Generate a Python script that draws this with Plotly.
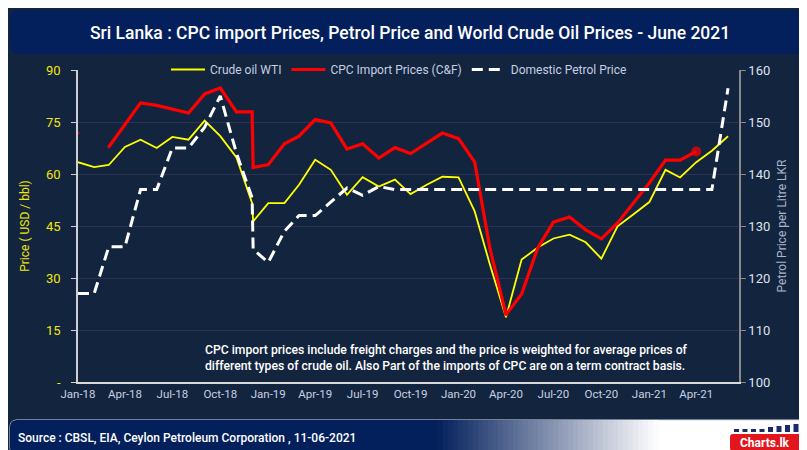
import pandas as pd
import plotly.graph_objects as go

# ---------------- data ----------------
MONTHS = list(pd.date_range("2018-01-01", "2021-06-01", freq="MS"))
STEP_DATE = pd.Timestamp("2018-12-03")   # extra row (petrol price revision in Dec-18)
DATES = MONTHS[:12] + [STEP_DATE] + MONTHS[12:]

WTI = [63.4, 62.0, 62.6, 67.8, 69.9, 67.5, 70.7, 69.9, 75.4, 70.9, 64.8,
       51.6, 46.3,
       51.6, 51.6, 56.9, 64.1, 61.2, 54.0, 59.1, 56.4, 58.4, 54.2, 56.9, 59.2,
       59.0, 49.2, 34.0, 18.7, 35.3, 38.8, 41.4, 42.5, 40.3, 35.6, 44.9, 48.3,
       51.9, 61.2, 59.0, 63.4, 66.7, 70.9]

CPC = [71.8, None, 67.8, 74.2, 80.5, 79.8, 78.7, 77.6, 83.1, 84.8, 77.9,
       77.9, 61.9,
       62.7, 68.7, 70.9, 75.7, 74.7, 67.2, 68.7, 64.6, 67.6, 65.9, 68.9, 71.8,
       70.2, 63.4, 38.7, 19.4, 25.4, 38.7, 46.1, 47.6, 43.9, 41.3, 45.9, 51.6,
       57.4, 64.0, 64.0, 66.5, None, None]

PETROL = [117, 117, 126, 126, 137, 137, 145, 145, 149, 155, 144,
          135.4, 125.5,
          123, 129, 132, 132, 134.7, 137.3, 135.9, 137.6,
          137, 137, 137, 137, 137, 137, 137, 137, 137, 137, 137, 137, 137, 137,
          137, 137, 137, 137, 137, 137, 137, 156.5]

LEFT_TICKS = [0, 15, 30, 45, 60, 75, 90]
LEFT_TICKTEXT = ["-", "15", "30", "45", "60", "75", "90"]
RIGHT_TICKS = [100, 110, 120, 130, 140, 150, 160]

TITLE = "Sri Lanka : CPC import Prices, Petrol Price and World Crude Oil Prices - June 2021"
NOTE = ("CPC import prices include freight charges and the price is weighted for average prices of<br>"
        "different types of crude oil. Also Part of the imports of CPC are on a term contract basis.")
SOURCE = "Source : CBSL, EIA, Ceylon Petroleum Corporation , 11-06-2021"

# ---------------- style ----------------
W, H = 807, 450
L, R, T, B = 70, 76, 62, 76
BG = "#13243f"
BAR = "#04205c"
FONT = "Roboto, Liberation Sans, sans-serif"

PW = W - L - R
PH = H - T - B


def px(x):
    return (x - L) / PW


def py(y):
    return (H - B - y) / PH


def rrect(x0, y0, x1, y1, r):
    X0, X1 = px(x0), px(x1)
    Y0, Y1 = py(y0), py(y1)
    rx, ry = r / PW, r / PH
    return (f"M{X0 + rx},{Y0} L{X1 - rx},{Y0} Q{X1},{Y0} {X1},{Y0 - ry} "
            f"L{X1},{Y1 + ry} Q{X1},{Y1} {X1 - rx},{Y1} L{X0 + rx},{Y1} "
            f"Q{X0},{Y1} {X0},{Y1 + ry} L{X0},{Y0 - ry} Q{X0},{Y0} {X0 + rx},{Y0} Z")


fig = go.Figure()

fig.add_trace(go.Scatter(
    x=DATES, y=WTI, name="Crude oil WTI", mode="lines",
    line=dict(color="#ffff00", width=1.8), hoverinfo="skip"))

last_cpc = max(i for i, v in enumerate(CPC) if v is not None)
fig.add_trace(go.Scatter(
    x=DATES, y=CPC, name="CPC Import Prices (C&F)", mode="lines+markers",
    line=dict(color="#ff0000", width=3.2),
    marker=dict(color="#ff0000", line=dict(width=0),
                size=[10 if i == last_cpc else 3 for i in range(len(CPC))]),
    connectgaps=False, hoverinfo="skip"))

fig.add_trace(go.Scatter(
    x=DATES, y=PETROL, name="Domestic Petrol Price", mode="lines", yaxis="y2",
    line=dict(color="#ffffff", width=3, dash="11px,6px"), hoverinfo="skip"))

shapes = []
# title bar
shapes.append(dict(type="path", xref="paper", yref="paper", path=rrect(2, 2, 804, 46, 8),
                   fillcolor=BAR, line=dict(width=0), layer="below"))
# footer bar with gradient
shapes.append(dict(type="path", xref="paper", yref="paper", path=rrect(2, 412, 805, 447, 7),
                   fillcolor="#ffffff", line=dict(color="#d8dce6", width=1), layer="below"))
shapes.append(dict(type="rect", xref="paper", yref="paper", x0=px(8), x1=px(432),
                   y0=py(412), y1=py(447), fillcolor=BAR, line=dict(width=0), layer="below"))
shapes.append(dict(type="path", xref="paper", yref="paper", path=rrect(2, 412, 20, 447, 7),
                   fillcolor=BAR, line=dict(width=0), layer="below"))
n_strips = 44
g0, g1 = 430, 650
c0 = (4, 32, 92)
for k in range(n_strips):
    t = (k + 0.5) / n_strips
    c = tuple(int(round(c0[j] + (255 - c0[j]) * t)) for j in range(3))
    xa = g0 + (g1 - g0) * k / n_strips
    xb = g0 + (g1 - g0) * (k + 1) / n_strips + 0.6
    shapes.append(dict(type="rect", xref="paper", yref="paper", x0=px(xa), x1=px(xb),
                       y0=py(412), y1=py(447), fillcolor=f"rgb{c}", line=dict(width=0),
                       layer="below"))
# logo
shapes.append(dict(type="path", xref="paper", yref="paper", path=rrect(722, 426, 801, 443, 3),
                   fillcolor="#e3161d", line=dict(width=0)))
bar_h = [3, 3, 3, 3, 5, 6, 7, 8]
for k, hgt in enumerate(bar_h):
    x0 = 726 + k * 8.5
    shapes.append(dict(type="rect", xref="paper", yref="paper", x0=px(x0), x1=px(x0 + 5),
                       y0=py(424), y1=py(424 - hgt), fillcolor="#1b2a6b", line=dict(width=0)))

annotations = [
    dict(text=TITLE, xref="paper", yref="paper", x=px(402), y=py(25), showarrow=False,
         xanchor="center", yanchor="middle",
         font=dict(family=FONT, size=17.5, color="#ffffff", weight=500)),
    dict(text=NOTE, xref="paper", yref="paper", x=px(195), y=py(350), showarrow=False,
         xanchor="left", yanchor="middle", align="left",
         font=dict(family=FONT, size=12.2, color="#ffffff", weight=500)),
    dict(text=SOURCE, xref="paper", yref="paper", x=px(8), y=py(430), showarrow=False,
         xanchor="left", yanchor="middle",
         font=dict(family=FONT, size=12, color="#ffffff", weight=500)),
    dict(text="Charts.lk", xref="paper", yref="paper", x=px(757), y=py(434.5), showarrow=False,
         xanchor="center", yanchor="middle",
         font=dict(family=FONT, size=12, color="#ffffff", weight="bold")),
]

fig.update_layout(
    width=W, height=H,
    margin=dict(l=L, r=R, t=T, b=B),
    paper_bgcolor=BG, plot_bgcolor=BG,
    font=dict(family=FONT, color="#c8d0e0"),
    showlegend=True,
    legend=dict(orientation="h", x=px(158), y=py(47), xanchor="left", yanchor="top",
                bgcolor="rgba(0,0,0,0)", font=dict(family=FONT, size=12, color="#c5cfe2"),
                itemwidth=34, tracegroupgap=0),
    xaxis=dict(type="date", range=["2018-01-01", "2021-06-22"],
               tick0="2018-01-01", dtick="M3", tickformat="%b-%y",
               showgrid=False, zeroline=False, showline=True, linecolor="#d8d8d8", linewidth=1.5,
               ticks="", tickfont=dict(family=FONT, size=11.5, color="#c8d0e0")),
    yaxis=dict(range=[0, 90], tickmode="array", tickvals=LEFT_TICKS, ticktext=LEFT_TICKTEXT,
               showgrid=True, gridcolor="#2c3152", gridwidth=1, zeroline=False,
               showline=True, linecolor="#d0d0d0", linewidth=1.5,
               ticks="outside", ticklen=5, tickcolor="#d0d0d0", ticklabelstandoff=8,
               tickfont=dict(family=FONT, size=13, color="#f2e60a"),
               title=dict(text="Price ( USD / bbl)", standoff=14,
                          font=dict(family=FONT, size=12, color="#f2e60a"))),
    yaxis2=dict(range=[100, 160], overlaying="y", side="right", tickmode="array",
                tickvals=RIGHT_TICKS, showgrid=False, zeroline=False,
                showline=True, linecolor="#8a8a8a", linewidth=1.5,
                ticks="outside", ticklen=5, tickcolor="#8a8a8a",
                tickfont=dict(family=FONT, size=13, color="#dde3ee"),
                title=dict(text="Petrol Price per Litre LKR", standoff=8,
                           font=dict(family=FONT, size=12, color="#aab6cc"))),
    shapes=shapes,
    annotations=annotations,
    hovermode=False,
)

fig.write_html("out.html")
